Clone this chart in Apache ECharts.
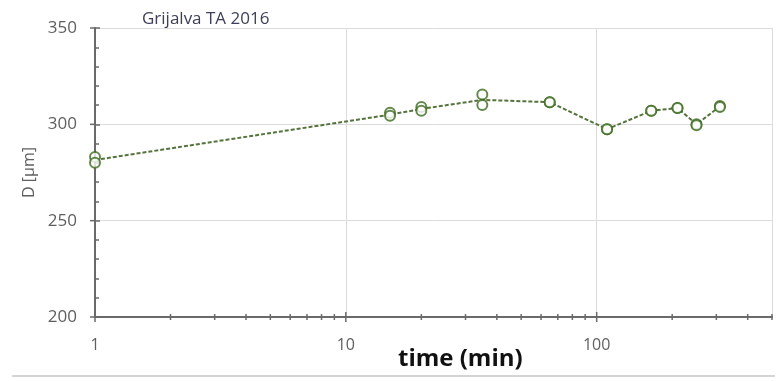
<!DOCTYPE html>
<html>
<head>
<meta charset="utf-8">
<script src="https://cdn.jsdelivr.net/npm/echarts@6/dist/echarts.min.js"></script>
<style>
html,body{margin:0;padding:0;background:#fff;}
#chart{width:781px;height:381px;}
</style>
</head>
<body>
<div id="chart"></div>
<script>
// ---- data ----
var times      = [1, 15, 20, 35, 65, 110, 165, 210, 250, 310];
var replicateA = [283, 306, 309, 315.5, 311.5, 297.5, 307, 308.5, 300, 309.5];
var replicateB = [280, 304.5, 307, 310, 311.5, 297.5, 307, 308.5, 299.5, 309];
var meanLine   = [281.5, 305, 308, 312.7, 311.5, 297.5, 307, 308.5, 300, 309.3];
var xMajorTicks = [1, 10, 100];
var xMinorTicks = [2,3,4,5,6,7,8,9,20,30,40,50,60,70,80,90,200,300,400,500];
var yMajorTicks = [200, 250, 300, 350];
var xLabels = ['1', '10', '100'];
var yMin = 200, yMax = 350, yStep = 50, xMin = 1, xMax = 500;

var green = '#3f6b1f';
var axisGray = '#6a6a6a';
var font = 'Open Sans, Liberation Sans, sans-serif';

function pairs(xs, ys){ return xs.map(function(x,i){ return [x, ys[i]]; }); }

var tickData = [];
xMajorTicks.forEach(function(v){ tickData.push([v, 'xmaj']); });
xMinorTicks.forEach(function(v){ tickData.push([v, 'xmin']); });
yMajorTicks.forEach(function(v){ tickData.push([v, 'ymaj']); });

var chart = echarts.init(document.getElementById('chart'), null, {renderer: 'canvas'});
chart.setOption({
  backgroundColor: '#fff',
  animation: false,
  title: [
    {text: 'Grijalva TA 2016', left: 137, top: 6,
     textStyle: {color: '#3d4058', fontSize: 17, fontWeight: 'normal', fontFamily: font}},
    {text: 'time (min)', left: 393, top: 342,
     textStyle: {color: '#111', fontSize: 24, fontWeight: 'bold', fontFamily: font}}
  ],
  grid: {left: 95, right: 9, top: 28, bottom: 64, containLabel: false},
  xAxis: {
    type: 'log', logBase: 10, min: xMin, max: xMax,
    axisLine: {show: true, lineStyle: {color: axisGray, width: 2}},
    axisTick: {show: false},
    minorTick: {show: false},
    splitLine: {show: true, lineStyle: {color: '#dcdcdc', width: 1}},
    axisLabel: {
      color: '#5f5f5f', fontSize: 16, fontFamily: font, margin: 20,
      showMaxLabel: false,
      formatter: function(v){ var i = xMajorTicks.indexOf(v); return i >= 0 ? xLabels[i] : ''; }
    }
  },
  yAxis: {
    type: 'value', min: yMin, max: yMax, interval: yStep,
    name: 'D [μm]', nameLocation: 'middle', nameGap: 48,
    nameTextStyle: {color: '#5f5f5f', fontSize: 16, fontFamily: font},
    axisLine: {show: true, lineStyle: {color: axisGray, width: 2}},
    axisTick: {show: true, inside: true, length: 5, lineStyle: {color: axisGray, width: 1.5}},
    minorTick: {show: true, splitNumber: 5, length: 4, lineStyle: {color: axisGray, width: 1.5}},
    splitLine: {show: true, lineStyle: {color: '#dcdcdc', width: 1}},
    axisLabel: {color: '#5f5f5f', fontSize: 17, fontFamily: font, margin: 18}
  },
  graphic: [
    {type: 'line', shape: {x1: 12, y1: 376, x2: 775, y2: 376},
     style: {stroke: '#d4d4d4', lineWidth: 2}, silent: true, z: -1}
  ],
  series: [
    {
      type: 'custom', name: 'ticks', silent: true, z: 5,
      data: tickData,
      renderItem: function(params, api){
        var v = api.value(0), kind = tickData[params.dataIndex][1];
        var p, s = {stroke: axisGray, lineWidth: 1.5};
        if (kind === 'xmaj') {
          p = api.coord([v, yMin]);
          return {type: 'line', shape: {x1: p[0], y1: p[1]-5, x2: p[0], y2: p[1]+5}, style: s};
        } else if (kind === 'xmin') {
          p = api.coord([v, yMin]);
          return {type: 'line', shape: {x1: p[0], y1: p[1]-3, x2: p[0], y2: p[1]+3}, style: s};
        } else {
          p = api.coord([xMin, v]);
          return {type: 'line', shape: {x1: p[0]-5, y1: p[1], x2: p[0], y2: p[1]}, style: s};
        }
      }
    },
    {
      type: 'line', name: 'mean', data: pairs(times, meanLine),
      showSymbol: false, symbol: 'none', z: 3,
      lineStyle: {color: '#55733d', width: 2, type: [4, 2]}
    },
    {
      type: 'scatter', name: 'A', data: pairs(times, replicateA),
      symbol: 'emptyCircle', symbolSize: 10, z: 4,
      itemStyle: {color: green, borderColor: green, borderWidth: 2}
    },
    {
      type: 'scatter', name: 'B', data: pairs(times, replicateB),
      symbol: 'emptyCircle', symbolSize: 10, z: 4,
      itemStyle: {color: green, borderColor: green, borderWidth: 2}
    }
  ]
});
</script>
</body>
</html>
